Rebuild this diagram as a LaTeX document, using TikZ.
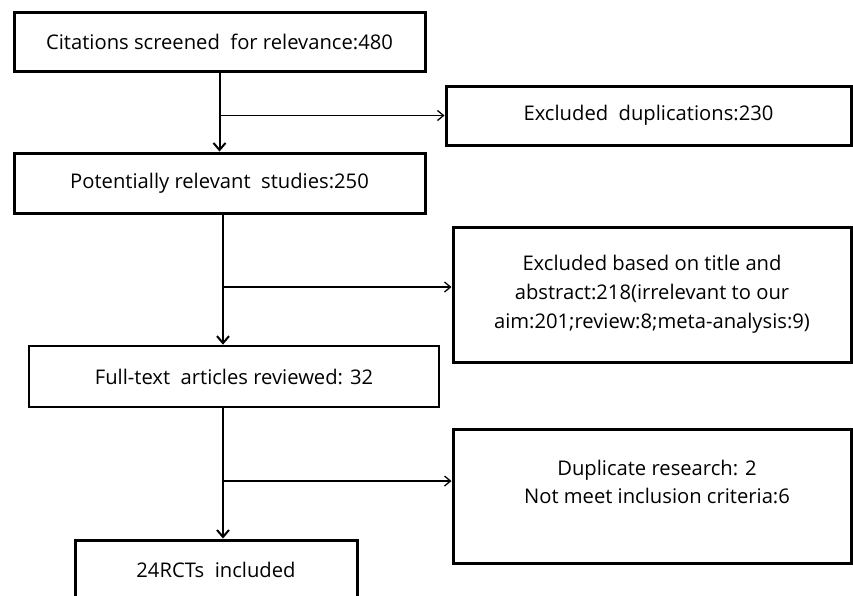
\documentclass[tikz,border=0pt]{standalone}
\usepackage{fontspec}
\setmainfont{Open Sans}
\usetikzlibrary{arrows.meta}
\begin{document}
\begin{tikzpicture}[x=1pt,y=-1pt,
 box/.style={draw, line width=3pt, inner sep=0pt, align=center, font=\fontsize{20.2}{29}\selectfont},
 txt/.style={inner sep=0pt, align=center, font=\fontsize{20.2}{28}\selectfont},
 main/.style={line width=2pt, -{Straight Barb[length=7pt,width=12pt,line width=2pt]}},
 side/.style={line width=1.3pt, -{Straight Barb[length=6pt,width=10pt,line width=1.3pt]}}]
\useasboundingbox (0,0) rectangle (853,595);
\node[box, minimum width=411pt, minimum height=59pt] (b1) at (219.5,41.5) {Citations screened\ \ for relevance:480};
\node[box, minimum width=405pt, minimum height=59pt] (b2) at (648.5,115.5) {Excluded\ \ duplications:230};
\node[box, minimum width=411pt, minimum height=60pt] (b3) at (219.5,183) {Potentially relevant\ \ studies:250};
\node[box, minimum width=398pt, minimum height=135pt] (b4) at (652,294.5) {Excluded based on title and\\abstract:218(irrelevant to our\\aim:201;review:8;meta-analysis:9)};
\node[box, line width=2.7pt, minimum width=410pt, minimum height=61pt] (b5) at (234,376.5) {Full-text\ \ articles reviewed: 32};
\node[box, minimum width=398pt, minimum height=134pt] (b6) at (652,496) {};
\node[txt] (t6) at (657,482) {Duplicate research: 2\\Not meet inclusion criteria:6};
\node[box, minimum width=282pt, minimum height=60pt] (b7) at (216,570) {24RCTs\ \ included};
\coordinate (x2) at (223,0);
\coordinate (j1) at (b1.south |- b2.west);
\coordinate (j2) at (223,287);
\coordinate (j3) at (223,481);
\draw[main] (b1.south) -- (b3.north);
\draw[side] (j1) -- (b2.west);
\draw[main] (b3.south -| x2) -- (b5.north -| x2);
\draw[side] (j2) -- (b4.west |- j2);
\draw[main] (b5.south -| x2) -- (b7.north -| x2);
\draw[side] (j3) -- (b6.west |- j3);
\end{tikzpicture}
\end{document}
